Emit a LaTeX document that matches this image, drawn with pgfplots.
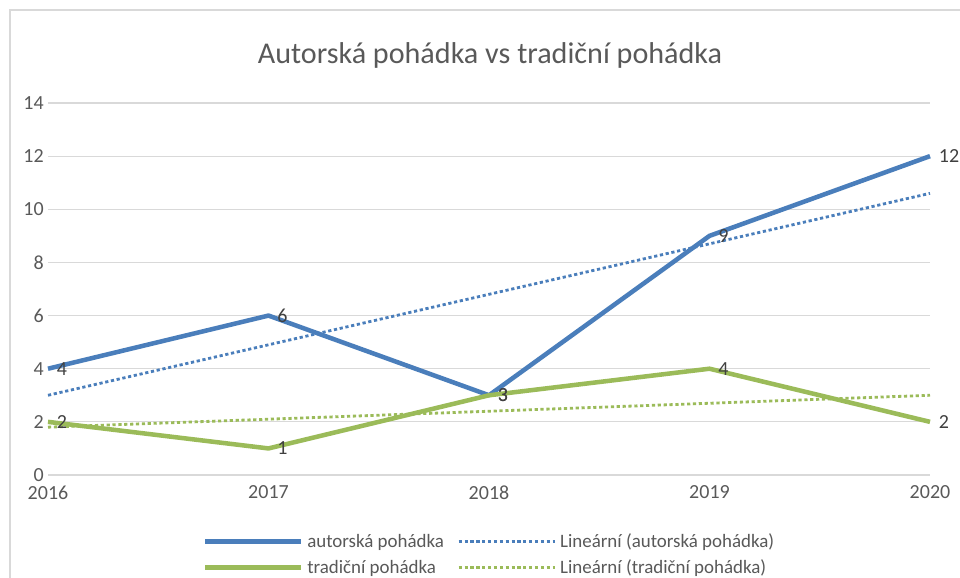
\documentclass[border=0pt]{standalone}
\usepackage{pgfplots}
\pgfplotsset{compat=1.18}
\usepackage{fontspec}
\setmainfont{Carlito}
\definecolor{cblue}{HTML}{4A7EBB}
\definecolor{cgreen}{HTML}{9BBB59}
\definecolor{cgrid}{HTML}{D9D9D9}
\definecolor{ctext}{HTML}{595959}
\definecolor{clab}{HTML}{404040}
\begin{document}
\begin{tikzpicture}
\path[use as bounding box] (0pt,0pt) rectangle (720pt,433.5pt);
\draw[cgrid, line width=0.9pt] (7.5pt,0pt) -- (7.5pt,426pt) -- (720pt,426pt);
\node[text=ctext, font=\fontsize{22.6}{26}\selectfont] at (367.5pt,392.25pt) {Autorská pohádka vs tradiční pohádka};
\begin{axis}[
  at={(36pt,77.25pt)}, anchor=origin,
  scale only axis, width=661.5pt, height=279pt,
  xmin=2016, xmax=2020, ymin=0, ymax=14,
  xtick={2016,2017,2018,2019,2020},
  ytick={0,2,4,6,8,10,12,14},
  /pgf/number format/1000 sep={},
  /pgf/number format/assume math mode=true,
  axis line style={draw=none},
  major tick style={draw=none},
  ymajorgrids, grid style={cgrid, line width=0.9pt},
  tick label style={text=ctext, font=\fontsize{15}{17}\selectfont, inner sep=1pt},
  xticklabel style={yshift=-7pt},
  yticklabel style={xshift=-2pt},
  clip=false,
  legend columns=2,
  legend cell align=left,
  legend style={draw=none, at={(0.5017,-0.214)}, anchor=center,
    font=\fontsize{14.2}{16}\selectfont, text=ctext,
    nodes={inner sep=3pt},
    /tikz/every even column/.append style={column sep=7pt},
    row sep=1.5pt},
  legend image code/.code={\draw[#1] (0pt,0pt) -- (72pt,0pt);},
  every node near coord/.append style={anchor=west, inner sep=0pt, xshift=5pt,
    text=clab, font=\fontsize{15}{17}\selectfont},
]
\addplot[cblue, line width=3.4pt, line join=round, nodes near coords] coordinates {
(2016,4) (2017,6) (2018,3) (2019,9) (2020,12)};
\addlegendentry{autorská pohádka}
\addplot[cblue, line width=2.1pt, dash pattern=on 2.4pt off 2.0pt] coordinates {
(2016,3.0) (2017,4.9) (2018,6.8) (2019,8.7) (2020,10.6)};
\addlegendentry{Lineární (autorská pohádka)}
\addplot[cgreen, line width=3.4pt, line join=round, nodes near coords] coordinates {
(2016,2) (2017,1) (2018,3) (2019,4) (2020,2)};
\addlegendentry{tradiční pohádka}
\addplot[cgreen, line width=2.1pt, dash pattern=on 2.4pt off 2.0pt] coordinates {
(2016,1.8) (2017,2.1) (2018,2.4) (2019,2.7) (2020,3.0)};
\addlegendentry{Lineární (tradiční pohádka)}
\end{axis}
\end{tikzpicture}
\end{document}
